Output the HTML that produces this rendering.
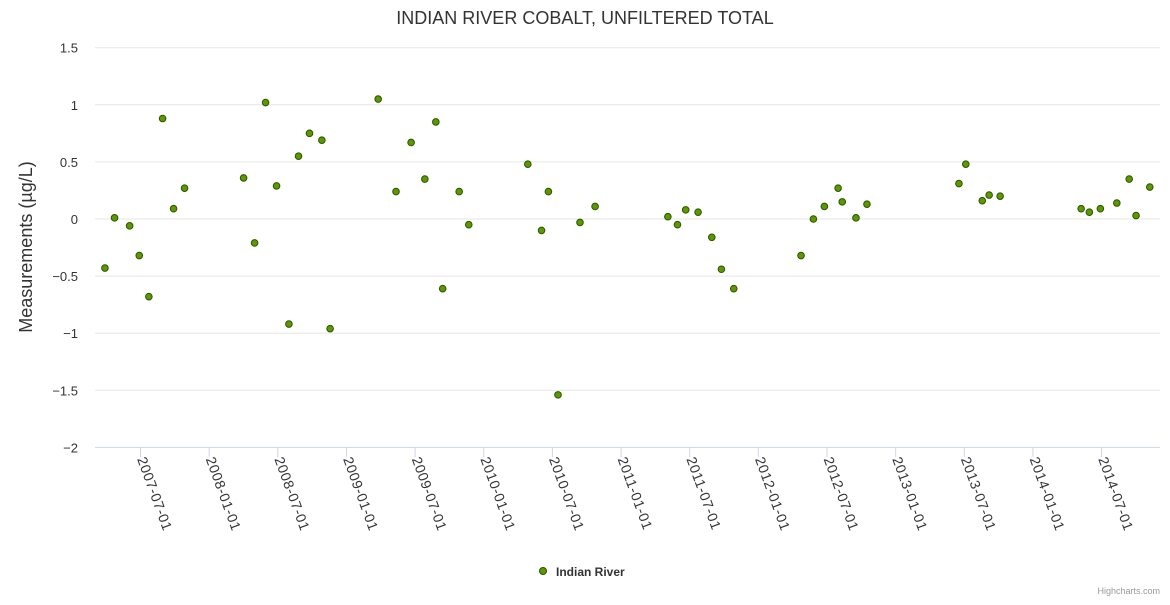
<!DOCTYPE html>
<html><head><meta charset="utf-8"><style>
body{margin:0;background:#fff;font-family:"Liberation Sans",sans-serif}
svg text{font-family:"Liberation Sans",sans-serif}
</style></head><body>
<svg width="1170" height="600">
<text x="585" y="24" text-anchor="middle" font-size="18" fill="#333">INDIAN RIVER COBALT, UNFILTERED TOTAL</text>
<text transform="translate(32,247) rotate(-90)" text-anchor="middle" font-size="18" fill="#333">Measurements (µg/L)</text>
<g id="grid"></g><g id="xaxis"></g><g id="pts"></g>
<g><circle cx="543" cy="571" r="3.5" fill="#5a9a00" stroke="#2f5200" stroke-width="1"/><text x="556" y="576" font-size="12" font-weight="bold" fill="#333">Indian River</text></g>
<text x="1160" y="594" text-anchor="end" font-size="9" fill="#999">Highcharts.com</text>
</svg>
<script>
const xVals=[2007.23,2007.30,2007.41,2007.48,2007.55,2007.65,2007.73,2007.81,2008.24,2008.32,2008.40,2008.48,2008.57,2008.64,2008.72,2008.81,2008.87,2009.22,2009.35,2009.46,2009.56,2009.64,2009.69,2009.81,2009.88,2010.31,2010.41,2010.46,2010.53,2010.69,2010.80,2011.33,2011.40,2011.46,2011.55,2011.65,2011.72,2011.81,2012.30,2012.39,2012.47,2012.57,2012.60,2012.70,2012.78,2013.45,2013.50,2013.62,2013.67,2013.75,2014.34,2014.40,2014.48,2014.60,2014.69,2014.74,2014.84];
const yVals=[-0.43,0.01,-0.06,-0.32,-0.68,0.88,0.09,0.27,0.36,-0.21,1.02,0.29,-0.92,0.55,0.75,0.69,-0.96,1.05,0.24,0.67,0.35,0.85,-0.61,0.24,-0.05,0.48,-0.1,0.24,-1.54,-0.03,0.11,0.02,-0.05,0.08,0.06,-0.16,-0.44,-0.61,-0.32,0.0,0.11,0.27,0.15,0.01,0.13,0.31,0.48,0.16,0.21,0.2,0.09,0.06,0.09,0.14,0.35,0.03,0.28];
const yTicks=[1.5,1,0.5,0,-0.5,-1,-1.5,-2];
const xTicks=[2007.5,2008,2008.5,2009,2009.5,2010,2010.5,2011,2011.5,2012,2012.5,2013,2013.5,2014,2014.5];
const xLabels=["2007-07-01","2008-01-01","2008-07-01","2009-01-01","2009-07-01","2010-01-01","2010-07-01","2011-01-01","2011-07-01","2012-01-01","2012-07-01","2013-01-01","2013-07-01","2014-01-01","2014-07-01"];
const X=v=>142+(v-2007.5)*137.3;
const Y=v=>219-v*114.2;
const NS="http://www.w3.org/2000/svg";
function mk(t,a,p){const e=document.createElementNS(NS,t);for(const k in a)e.setAttribute(k,a[k]);p.appendChild(e);return e;}
const grid=document.getElementById('grid'),xa=document.getElementById('xaxis'),pts=document.getElementById('pts');
yTicks.forEach(t=>{
 const l=mk('line',{x1:95,x2:1160,y1:Y(t),y2:Y(t),stroke:t===-2?'#ccd6eb':'#e6e6e6'},grid);
 
 
 const tx=mk('text',{x:78,y:Y(t)+5,'text-anchor':'end','font-size':13,fill:'#333'},grid);
 tx.textContent=t===0?'0':String(t).replace('-','−');
 
 
});
xTicks.forEach((t,i)=>{
 const l=mk('line',{x1:X(t)-1.5,x2:X(t)-1.5,y1:447,y2:457,stroke:'#ccd6eb'},xa);
 
 
 const tx=mk('text',{transform:`translate(${X(t)-5},${459}) rotate(70)`,'font-size':14,'letter-spacing':'0.6',fill:'#333'},xa);
 tx.textContent=xLabels[i];
 
 
});
xVals.forEach((v,i)=>{
 const c=mk('circle',{cx:X(v),cy:Y(yVals[i]),r:3.3,fill:'#5a9a00',stroke:'#2f5200','stroke-width':1},pts);
 
 
});
</script>
</body></html>
